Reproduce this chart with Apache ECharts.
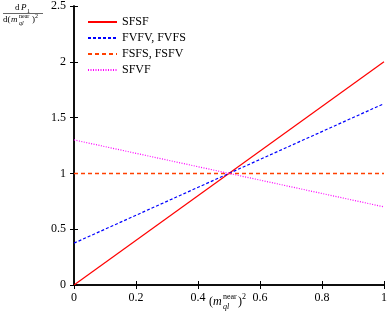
<!DOCTYPE html>
<html><head><meta charset="utf-8">
<script src="https://cdn.jsdelivr.net/npm/echarts@6/dist/echarts.min.js"></script>
<style>html,body{margin:0;padding:0;background:#fff}#c{width:390px;height:315px}</style>
</head><body><div id="c"></div>
<script>
const xVals = [0, 1];
const sfsf = [0, 2];
const fvfv = [0.375, 1.625];
const fsfs = [1, 1];
const sfvf = [1.3, 0.7];
const names = ['SFSF', 'FVFV, FVFS', 'FSFS, FSFV', 'SFVF'];
const xTicks = [0, 0.2, 0.4, 0.6, 0.8, 1];
const yTicks = [0, 0.5, 1, 1.5, 2, 2.5];

const F = 'Liberation Serif';
const chart = echarts.init(document.getElementById('c'));
function pts(arr){ return xVals.map((x,i)=>[x, arr[i]]); }
const axLine = {show:true, lineStyle:{color:'#000', width:1.5}};
const tick = {show:true, inside:true, length:4, lineStyle:{color:'#000', width:1}};
chart.setOption({
  animation:false,
  grid:{left:74, right:5, top:5, bottom:30},
  legend:{
    left:82, top:11, orient:'vertical', itemWidth:29, itemHeight:10, itemGap:4,
    itemStyle:{opacity:0},
    textStyle:{fontFamily:F, fontSize:12, color:'#000'},
    data: names.map(n=>({name:n}))
  },
  xAxis:[
    {type:'value', min:0, max:1, interval:0.2, axisLine:axLine, axisTick:tick, splitLine:{show:false},
     axisLabel:{fontFamily:F, fontSize:12, color:'#000', margin:7, formatter:v=>xTicks.includes(v)?String(v):''}},
    {type:'value', position:'top', min:0, max:1, interval:0.2, axisLine:axLine, axisTick:tick, splitLine:{show:false}, axisLabel:{show:false}}
  ],
  yAxis:[
    {type:'value', min:0, max:2.5, interval:0.5, axisLine:axLine, axisTick:tick, splitLine:{show:false},
     axisLabel:{fontFamily:F, fontSize:12, color:'#000', margin:8, formatter:v=>yTicks.includes(v)?String(v):''}},
    {type:'value', position:'right', min:0, max:2.5, interval:0.5, axisLine:axLine, axisTick:tick, splitLine:{show:false}, axisLabel:{show:false}}
  ],
  series:[
    {name:names[0], type:'line', data:pts(sfsf), symbol:'none', lineStyle:{color:'#ff0000', width:1.2, type:'solid'}, itemStyle:{color:'#ff0000'}},
    {name:names[1], type:'line', data:pts(fvfv), symbol:'none', lineStyle:{color:'#0000ff', width:1.2, type:[3,2]}, itemStyle:{color:'#0000ff'}},
    {name:names[2], type:'line', data:pts(fsfs), symbol:'none', lineStyle:{color:'#ff4000', width:1.5, type:[4,3]}, itemStyle:{color:'#ff4000'}},
    {name:names[3], type:'line', data:pts(sfvf), symbol:'none', lineStyle:{color:'#ff00ff', width:1.2, type:[1,1.5]}, itemStyle:{color:'#ff00ff'}}
  ],
  graphic:[
    {type:'text', left:15, top:3, style:{text:'d', font:'9px '+F, fill:'#000'}},
    {type:'text', left:21, top:3, style:{text:'P', font:'italic 9px '+F, fill:'#000'}},
    {type:'text', left:27, top:8, style:{text:'1', font:'6px '+F, fill:'#000'}},
    {type:'line', shape:{x1:3, y1:13.5, x2:43, y2:13.5}, style:{stroke:'#000', lineWidth:0.6}},
    {type:'text', left:3, top:15, style:{text:'d(', font:'9px '+F, fill:'#000'}},
    {type:'text', left:11, top:15, style:{text:'m', font:'italic 9px '+F, fill:'#000'}},
    {type:'text', left:19, top:13.5, style:{text:'near', font:'6px '+F, fill:'#000'}},
    {type:'text', left:19, top:20, style:{text:'ql', font:'italic 6px '+F, fill:'#000'}},
    {type:'text', left:32, top:15, style:{text:')', font:'9px '+F, fill:'#000'}},
    {type:'text', left:35, top:13, style:{text:'2', font:'6px '+F, fill:'#000'}},

    {type:'text', left:209, top:296, style:{text:'(', font:'12px '+F, fill:'#000'}},
    {type:'text', left:213, top:296, style:{text:'m', font:'italic 12px '+F, fill:'#000'}},
    {type:'text', left:223, top:293, style:{text:'near', font:'8px '+F, fill:'#000'}},
    {type:'text', left:223, top:303, style:{text:'ql', font:'italic 8px '+F, fill:'#000'}},
    {type:'text', left:238, top:296, style:{text:')', font:'12px '+F, fill:'#000'}},
    {type:'text', left:242, top:293, style:{text:'2', font:'8px '+F, fill:'#000'}}
  ]
});
</script></body></html>
